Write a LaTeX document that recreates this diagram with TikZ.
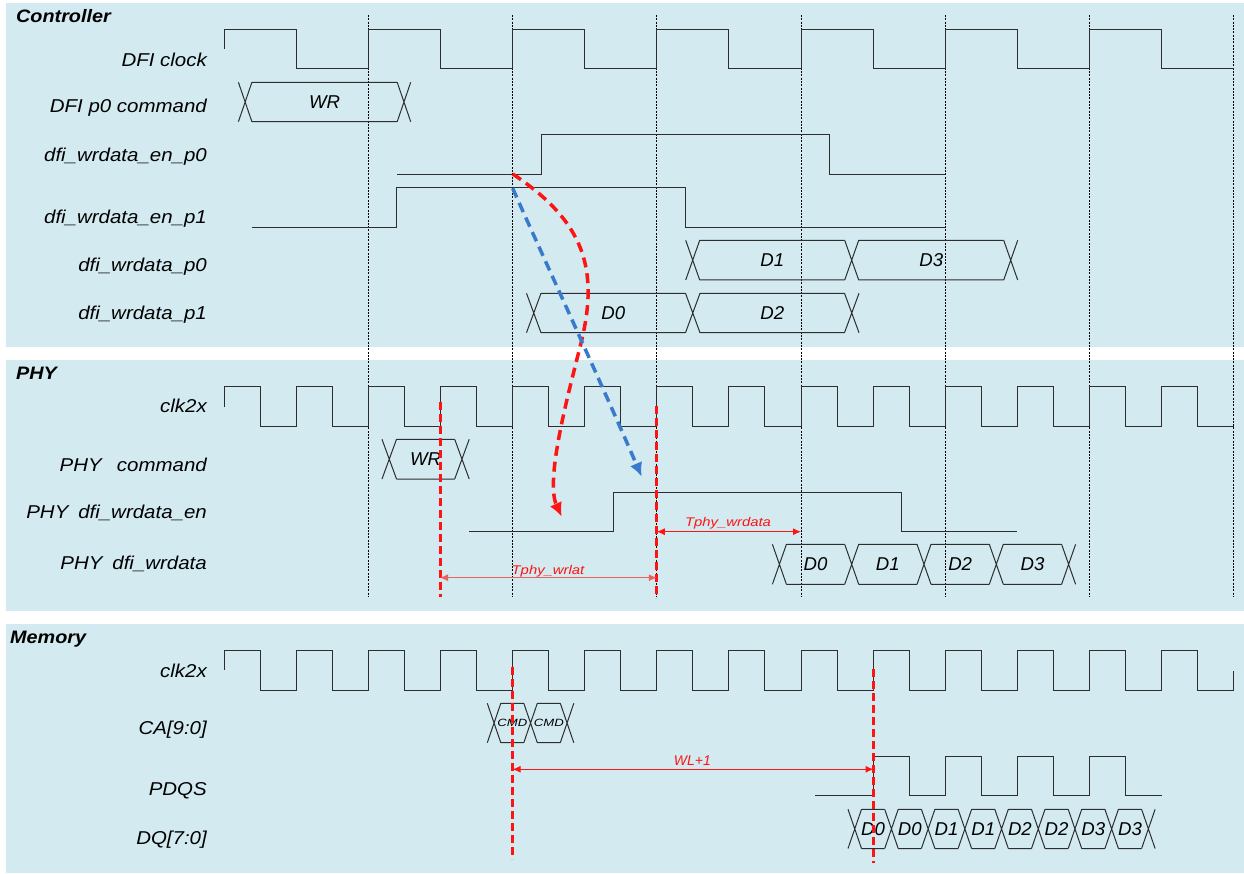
\documentclass[tikz,border=0pt]{standalone}
\usepackage{fontspec}
\setmainfont{Liberation Sans}
\usepackage{graphicx}
\usetikzlibrary{arrows.meta}
\definecolor{panel}{RGB}{210,234,240}
\definecolor{myred}{RGB}{255,20,20}
\definecolor{mylred}{RGB}{236,96,96}
\definecolor{myblue}{RGB}{58,122,204}
\newcommand\hsc[2]{\scalebox{#1}[1]{#2}}
% bus: x0, period, Xwidth, ytop, ybot, n, label style, labels, name prefix
\newcommand\busdraw[9]{%
  \foreach \lb [count=\i from 0] in {#8} {%
    \pgfmathsetmacro\s{#1+\i*(#2)}%
    \draw[sig] (\s,#4) -- (\s+#3,#5) (\s,#5) -- (\s+#3,#4)
               (\s+#3,#4) -- (\s+#2,#4) (\s+#3,#5) -- (\s+#2,#5);%
    \node[#7] (#9\i) at ({\s+(#2+#3)/2},{(#4+#5)/2}) {\lb};%
  }%
  \pgfmathsetmacro\s{#1+#6*(#2)}%
  \draw[sig] (\s,#4) -- (\s+#3,#5) (\s,#5) -- (\s+#3,#4);%
}
\begin{document}
\begin{tikzpicture}[x=1pt,y=-1pt,
  sig/.style={line width=1pt, draw=black!82},
  gridline/.style={line width=0.8pt, draw=black, dash pattern=on 2pt off 1.3pt},
  panelbox/.style={fill=panel, draw=none},
  rowlbl/.style={anchor=east, inner sep=0pt, text height=13.3pt, text depth=0pt, font=\fontsize{18.6}{20}\selectfont\itshape},
  headlbl/.style={anchor=west, inner sep=0pt, text height=12.9pt, text depth=0pt, font=\fontsize{18}{20}\selectfont\bfseries\itshape},
  datalbl/.style={inner sep=0pt, text height=13.3pt, text depth=0pt, font=\fontsize{18.6}{20}\selectfont\itshape},
  cmdlbl/.style={inner sep=0pt, text height=7.5pt, text depth=0pt, font=\fontsize{10.5}{12}\selectfont\itshape},
  timelbl/.style={inner sep=0pt, text height=9pt, text depth=0pt, text=myred, font=\fontsize{12.6}{14}\selectfont\itshape},
  wllbl/.style={inner sep=0pt, text height=10pt, text depth=0pt, text=myred, font=\fontsize{14}{16}\selectfont\itshape},
  reddash/.style={draw=myred, line width=3pt, dash pattern=on 8pt off 4pt},
  dimarrow/.style={line width=1pt, {Latex[length=8pt,width=7pt]}-{Latex[length=8pt,width=7pt]}},
  curvearrow/.style={line width=3.5pt, dash pattern=on 10pt off 6pt, -{Latex[length=14pt,width=13pt]}}
]
\useasboundingbox (0,0) rectangle (1244,874);
\fill[white] (0,0) rectangle (1244,874);
% panels
\fill[panelbox] (6,3) rectangle (1244,347);
\fill[panelbox] (6,360) rectangle (1244,611);
\fill[panelbox] (6,624) rectangle (1244,873);
% grid
\foreach \k in {0,...,6} \draw[gridline] ({368.25+144.25*\k},15) -- ({368.25+144.25*\k},597);
% headings
\node[headlbl] (hc) at (16,16.4) {\hsc{1.1}{Controller}};
\node[headlbl] (hp) at (16,373.3) {\hsc{1.1}{PHY}};
\node[headlbl] (hm) at (10,637.5) {\hsc{1.1}{Memory}};
% row labels
\node[rowlbl] (l1) at (207,60) {\hsc{1.1}{DFI clock}};
\node[rowlbl] (l2) at (207,106) {\hsc{1.1}{DFI p0 command}};
\node[rowlbl] (l3) at (207,155) {\hsc{1.1}{dfi\_wrdata\_en\_p0}};
\node[rowlbl] (l4) at (207,216.7) {\hsc{1.1}{dfi\_wrdata\_en\_p1}};
\node[rowlbl] (l5) at (207,265) {\hsc{1.1}{dfi\_wrdata\_p0}};
\node[rowlbl] (l6) at (207,312.7) {\hsc{1.1}{dfi\_wrdata\_p1}};
\node[rowlbl] (l7) at (207,406.2) {\hsc{1.1}{clk2x}};
\node[rowlbl] (l8) at (207,464.5) {\hsc{1.1}{PHY\hspace{8.7pt} command}};
\node[rowlbl] (l9) at (207,512) {\hsc{1.1}{PHY\hspace{3.8pt} dfi\_wrdata\_en}};
\node[rowlbl] (l10) at (207,563.3) {\hsc{1.1}{PHY\hspace{3.8pt} dfi\_wrdata}};
\node[rowlbl] (l11) at (207,671) {\hsc{1.1}{clk2x}};
\node[rowlbl] (l12) at (207,728) {\hsc{1.1}{CA[9:0]}};
\node[rowlbl] (l13) at (207,789) {\hsc{1.1}{PDQS}};
\node[rowlbl] (l14) at (207,837.5) {\hsc{1.1}{DQ[7:0]}};
% DFI clock
\draw[sig] (224,49) -- (224,29.3)
  \foreach \k in {1,...,6} { -- ++(72.125,0) -- ++(0,39.7) -- ++(72.125,0) -- ++(0,-39.7) }
  -- ++(72.125,0) -- ++(0,39.7) -- ++(72.125,0);
% enables
\draw[sig] (397,174.3) -- (541.3,174.3) -- (541.3,135) -- (829.5,135) -- (829.5,174.3) -- (945.25,174.3);
\draw[sig] (252,227.7) -- (396.8,227.7) -- (396.8,187.7) -- (685.7,187.7) -- (685.7,227.7) -- (945.25,227.7);
% controller buses
\busdraw{238.4}{158.8}{13.5}{82.3}{121.7}{1}{datalbl}{WR}{cmd}
\busdraw{685.7}{159}{14}{240.3}{280}{2}{datalbl}{D1,D3}{dp0}
\busdraw{526.5}{159}{14.5}{293.3}{332.7}{2}{datalbl}{D0,D2}{dp1}
% PHY clk2x
\draw[sig] (224,407) -- (224,386)
  \foreach \k in {1,...,13} { -- ++(36.0625,0) -- ++(0,40) -- ++(36.0625,0) -- ++(0,-40) }
  -- ++(36.0625,0) -- ++(0,40) -- ++(36.0625,0);
\busdraw{382}{72.7}{14.5}{439.3}{479}{1}{datalbl}{WR}{pcmd}
\draw[sig] (469.4,531.7) -- (613,531.7) -- (613,492.3) -- (901.7,492.3) -- (901.7,531.7) -- (1017,531.7);
\busdraw{772.4}{72.3}{14}{544.3}{584.3}{4}{datalbl}{D0,D1,D2,D3}{pd}
% Memory clk2x
\draw[sig] (224,670) -- (224,650.7)
  \foreach \k in {1,...,13} { -- ++(36.0625,0) -- ++(0,39.3) -- ++(36.0625,0) -- ++(0,-39.3) }
  -- ++(36.0625,0) -- ++(0,39.3) -- ++(36.0625,0) -- ++(0,-19.3);
\busdraw{487.3}{36.5}{13.5}{703.3}{742.7}{2}{cmdlbl}{\hsc{1.25}{CMD},\hsc{1.25}{CMD}}{ca}
\draw[sig] (815,795.7) -- (873.3,795.7) -- (873.3,756) -- (909.3,756) -- (909.3,795.7) -- (945.3,795.7)
  -- (945.3,756) -- (981.5,756) -- (981.5,795.7) -- (1017.5,795.7) -- (1017.5,756) -- (1053.5,756)
  -- (1053.5,795.7) -- (1089.5,795.7) -- (1089.5,756) -- (1125.7,756) -- (1125.7,795.7) -- (1161.7,795.7);
\busdraw{848}{36.7}{13.5}{809.3}{848.5}{8}{datalbl}{D0,D0,D1,D1,D2,D2,D3,D3}{dq}
% red markers
\coordinate (wlA) at (440,577.7);
\coordinate (wlB) at (656.75,577.7);
\coordinate (wdA) at (656.75,531.7);
\coordinate (wdB) at (801,531.7);
\coordinate (wA) at (512.6,769.3);
\coordinate (wB) at (873.5,769.3);
\draw[reddash] (440,401.7) -- (440,597);
\draw[reddash] (656.75,406) -- (656.75,598);
\draw[reddash] (512.6,667) -- (512.6,859);
\draw[reddash] (873.5,669) -- (873.5,863);
\draw[dimarrow, draw=mylred] (wlA) -- (wlB);
\node[timelbl] (t1) at (548,569.5) {\hsc{1.18}{Tphy\_wrlat}};
\draw[dimarrow, draw=myred] (wdA) -- (wdB);
\node[timelbl] (t2) at (728,522.2) {\hsc{1.18}{Tphy\_wrdata}};
\draw[dimarrow, draw=myred] (wA) -- (wB);
\node[wllbl] (t3) at (692.4,760) {WL+1};
% curved arrows
\coordinate (rs) at (512.7,174);
\coordinate (re) at (561.7,516.7);
\coordinate (bs) at (512.7,188.3);
\coordinate (be) at (641.7,476.7);
\draw[curvearrow, draw=myred] (rs) .. controls (585,222) and (600,270) .. (580,347)
  .. controls (568,395) and (545,480) .. (re);
\draw[curvearrow, draw=myblue] (bs) .. controls (530,228) and (600,380) .. (be);
\end{tikzpicture}
\end{document}
